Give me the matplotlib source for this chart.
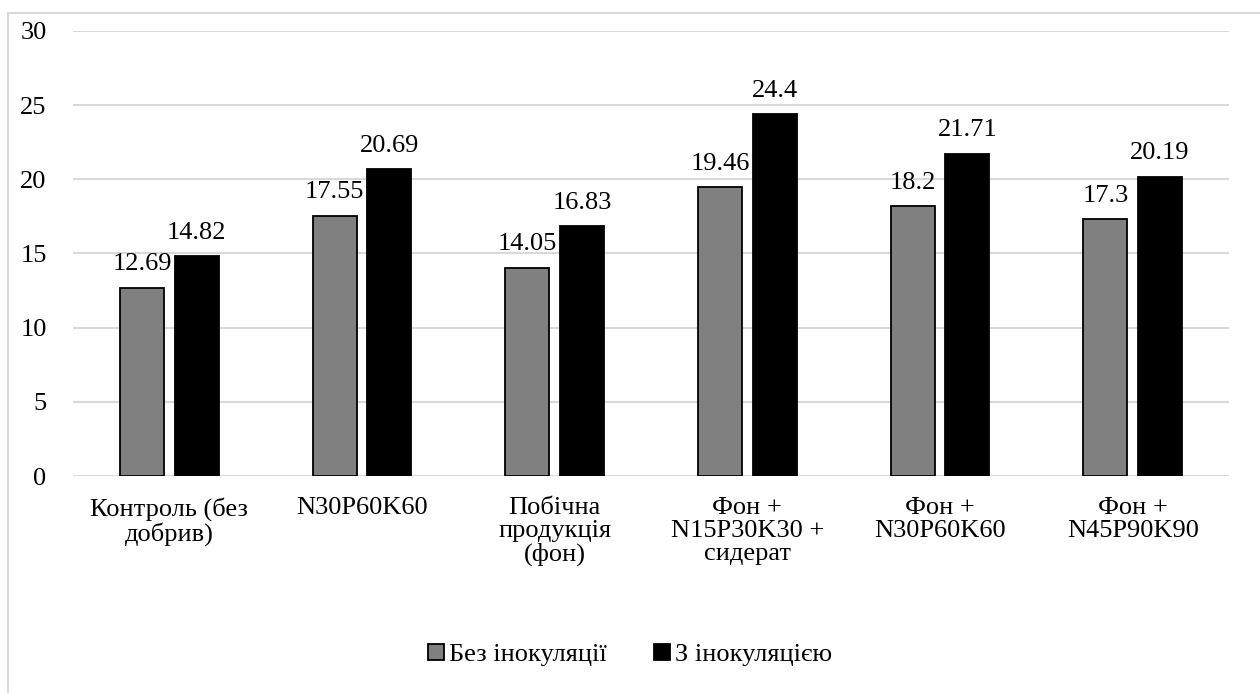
import os
import matplotlib.pyplot as plt
import numpy as np
from matplotlib.patches import Rectangle
from matplotlib.text import Text
from matplotlib.font_manager import FontProperties

SERIF_FILE = '/usr/share/fonts/truetype/liberation/LiberationSerif-Regular.ttf'
plt.rcParams['font.family'] = 'Liberation Serif'

categories = ['Контроль (без\nдобрив)', 'N30P60K60', 'Побічна\nпродукція\n(фон)',
              'Фон +\nN15P30K30 +\nсидерат', 'Фон +\nN30P60K60', 'Фон +\nN45P90K90']
without_inoc = [12.69, 17.55, 14.05, 19.46, 18.2, 17.3]
with_inoc = [14.82, 20.69, 16.83, 24.4, 21.71, 20.19]
series_names = ['Без інокуляції', 'З інокуляцією']

FS = 19

fig = plt.figure(figsize=(12.6, 6.93), dpi=100)
ax = fig.add_axes([0.0579, 0.3131, 0.9175, 0.6422])

x = np.arange(len(categories))
w = 0.228
off = 0.142
b1 = ax.bar(x - off, without_inoc, w, color='#808080', edgecolor='black', linewidth=1.3,
            label=series_names[0], zorder=3)
b2 = ax.bar(x + off, with_inoc, w, color='black', edgecolor='black', linewidth=1.3,
            label=series_names[1], zorder=3)
for bars in (b1, b2):
    ax.bar_label(bars, labels=[f'{v:g}' for v in bars.datavalues], padding=9, fontsize=FS)

ax.set_ylim(0, 30)
ax.set_xlim(-0.5, len(categories) - 0.5)
ax.set_yticks(range(0, 31, 5))
ax.set_xticks(x)
ax.set_xticklabels(categories, fontsize=FS, linespacing=1.05)
ax.tick_params(axis='y', labelsize=FS, length=0, pad=19)
ax.tick_params(axis='x', length=0, pad=15)
ax.grid(axis='y', color='#d9d9d9', linewidth=1.5, zorder=0)
for s in ax.spines.values():
    s.set_visible(False)

fig.legend(loc='center', bbox_to_anchor=(0.5, 0.055), ncol=2, frameon=False, fontsize=FS,
           handlelength=0.6, handleheight=0.6, handletextpad=0.2, columnspacing=1.8)

fig.patches.append(Rectangle((8 / 1260, -0.1), 1.2, 1 - 13 / 693 + 0.1, transform=fig.transFigure,
                             fill=False, edgecolor='#d9d9d9', linewidth=1.5))

# point every text straight at the serif font file
if os.path.exists(SERIF_FILE):
    for t in fig.findobj(Text):
        t.set_fontproperties(FontProperties(fname=SERIF_FILE, size=FS))

fig.savefig('out.png', dpi=100)
